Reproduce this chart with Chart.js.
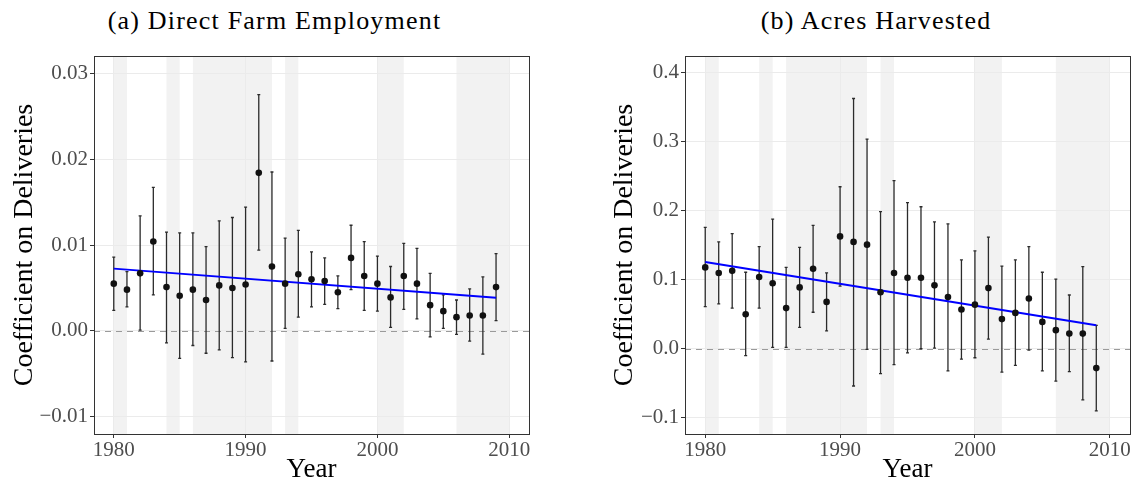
<!DOCTYPE html>
<html>
<head>
<meta charset="utf-8">
<script src="https://cdn.jsdelivr.net/npm/chart.js@4"></script>
<style>
  body { margin: 0; background: #fff; }
  #wrap { position: relative; width: 1135px; height: 484px; overflow: hidden; }
  .panel { position: absolute; top: 0; }
  .titulo { position: absolute; top: 8px; height: 30px; line-height: 25px; text-align: center;
            font-family: 'Liberation Serif', serif; font-size: 26px; letter-spacing: 1.2px; color: #000; }
</style>
</head>
<body>
<div id="wrap">
  <div class="titulo" style="left:0; width:549px;">(a) Direct Farm Employment</div>
  <div class="titulo" style="left:626px; width:500px;">(b) Acres Harvested</div>
  <canvas id="graficoEmprego" class="panel" style="left:0" width="567" height="484"></canvas>
  <canvas id="graficoAcres" class="panel" style="left:567px" width="568" height="484"></canvas>
</div>
<script>
// anos das estimativas
var anos = [1980, 1981, 1982, 1983, 1984, 1985, 1986, 1987, 1988, 1989,
            1990, 1991, 1992, 1993, 1994, 1995, 1996, 1997, 1998, 1999,
            2000, 2001, 2002, 2003, 2004, 2005, 2006, 2007, 2008, 2009];

// (a) emprego agricola direto
var empregoCoef = [0.0055, 0.0048, 0.0067, 0.0104, 0.0051, 0.0041, 0.0048, 0.0036, 0.0053, 0.0050,
                   0.0054, 0.0184, 0.0075, 0.0055, 0.0066, 0.0060, 0.0058, 0.0045, 0.0085, 0.0064,
                   0.0055, 0.0039, 0.0064, 0.0055, 0.0030, 0.0023, 0.0016, 0.0018, 0.0018, 0.0051];
var empregoInf = [0.0024, 0.0028, 0.0001, 0.0042, -0.0014, -0.0032, -0.0017, -0.0026, -0.0022, -0.0031,
                  -0.0036, 0.0094, -0.0035, 0.0003, 0.0016, 0.0028, 0.0031, 0.0026, 0.0048, 0.0024,
                  0.0023, 0.0004, 0.0025, 0.0014, -0.0007, 0.0003, -0.0004, -0.0012, -0.0027, 0.0012];
var empregoSup = [0.0086, 0.0069, 0.0134, 0.0167, 0.0115, 0.0114, 0.0114, 0.0098, 0.0128, 0.0132,
                  0.0144, 0.0275, 0.0185, 0.0108, 0.0117, 0.0092, 0.0085, 0.0064, 0.0123, 0.0104,
                  0.0087, 0.0075, 0.0102, 0.0096, 0.0067, 0.0042, 0.0036, 0.0049, 0.0063, 0.0090];
var empregoTendencia = [0.00725, 0.00387];

// (b) acres colhidos
var acresCoef = [0.118, 0.110, 0.113, 0.050, 0.104, 0.095, 0.059, 0.089, 0.116, 0.068,
                 0.163, 0.155, 0.151, 0.082, 0.110, 0.103, 0.103, 0.092, 0.075, 0.057,
                 0.064, 0.088, 0.043, 0.052, 0.073, 0.039, 0.027, 0.022, 0.022, -0.028];
var acresInf = [0.061, 0.065, 0.059, -0.010, 0.059, 0.002, 0.002, 0.031, 0.053, 0.026,
                0.091, -0.054, -0.001, -0.036, -0.023, -0.006, 0.000, 0.001, -0.032, -0.015,
                -0.013, 0.014, -0.034, -0.024, -0.002, -0.032, -0.047, -0.033, -0.074, -0.090];
var acresSup = [0.176, 0.155, 0.167, 0.111, 0.148, 0.188, 0.118, 0.147, 0.179, 0.110,
                0.235, 0.363, 0.304, 0.199, 0.244, 0.212, 0.206, 0.184, 0.181, 0.129,
                0.142, 0.162, 0.120, 0.129, 0.148, 0.111, 0.101, 0.078, 0.119, 0.034];
var acresTendencia = [0.126, 0.034];

// anos da linha de tendencia
var tendenciaAnos = [1980, 2009];

// faixas sombreadas
var faixaInicio = [1980, 1984, 1986, 1993, 2000, 2006];
var faixaFim    = [1981, 1985, 1992, 1994, 2002, 2010];

// eixos
var xTicks = [1980, 1990, 2000, 2010];
var xLabels = ["1980", "1990", "2000", "2010"];
var empregoTicks = [-0.01, 0, 0.01, 0.02, 0.03];
var empregoLabels = ["\u22120.01", "0.00", "0.01", "0.02", "0.03"];
var acresTicks = [-0.1, 0, 0.1, 0.2, 0.3, 0.4];
var acresLabels = ["\u22120.1", "0.0", "0.1", "0.2", "0.3", "0.4"];

var fonte = "'Liberation Serif', 'Times New Roman', serif";

// faixas, linha zero, barras de erro e moldura
var extras = {
    id: 'extras',
    beforeDraw: function(chart) {
        var ctx = chart.ctx, a = chart.chartArea, x = chart.scales.x;
        ctx.save();
        ctx.fillStyle = '#f2f2f2';
        for (var i = 0; i < faixaInicio.length; i++) {
            var x0 = x.getPixelForValue(faixaInicio[i]);
            var x1 = x.getPixelForValue(faixaFim[i]);
            ctx.fillRect(x0, a.top, x1 - x0, a.bottom - a.top);
        }
        ctx.restore();
    },
    beforeDatasetsDraw: function(chart, args, opts) {
        var ctx = chart.ctx, a = chart.chartArea, x = chart.scales.x, y = chart.scales.y;
        ctx.save();
        // linha tracejada em zero
        ctx.strokeStyle = '#9a9a9a';
        ctx.lineWidth = 1;
        ctx.setLineDash([6, 5]);
        var y0 = Math.round(y.getPixelForValue(0)) + 0.5;
        ctx.beginPath();
        ctx.moveTo(a.left, y0);
        ctx.lineTo(a.right, y0);
        ctx.stroke();
        ctx.setLineDash([]);
        // barras de erro
        ctx.strokeStyle = '#2b2b2b';
        ctx.lineWidth = 1.3;
        for (var i = 0; i < anos.length; i++) {
            var px = x.getPixelForValue(anos[i]);
            var pLo = y.getPixelForValue(opts.inf[i]);
            var pHi = y.getPixelForValue(opts.sup[i]);
            ctx.beginPath();
            ctx.moveTo(px, pLo);
            ctx.lineTo(px, pHi);
            ctx.moveTo(px - 1.5, pLo);
            ctx.lineTo(px + 1.5, pLo);
            ctx.moveTo(px - 1.5, pHi);
            ctx.lineTo(px + 1.5, pHi);
            ctx.stroke();
        }
        ctx.restore();
    },
    afterDraw: function(chart) {
        var ctx = chart.ctx, a = chart.chartArea;
        ctx.save();
        ctx.strokeStyle = '#333333';
        ctx.lineWidth = 1;
        ctx.strokeRect(Math.round(a.left) + 0.5, Math.round(a.top) + 0.5,
                       Math.round(a.right - a.left), Math.round(a.bottom - a.top));
        ctx.restore();
    }
};

function desenharPainel(idCanvas, coef, inf, sup, tendencia, yMin, yMax, yTicks, yLabels, larguraY, margem) {
    var ctx = document.getElementById(idCanvas).getContext('2d');
    var pontos = anos.map(function(a, i) { return { x: a, y: coef[i] }; });
    var linha = tendenciaAnos.map(function(a, i) { return { x: a, y: tendencia[i] }; });

    return new Chart(ctx, {
        type: 'scatter',
        data: {
            datasets: [{
                data: linha,
                type: 'line',
                showLine: true,
                borderColor: '#0000ff',
                borderWidth: 2,
                pointRadius: 0,
                fill: false,
                order: 1
            }, {
                data: pontos,
                backgroundColor: '#111111',
                borderColor: '#111111',
                pointRadius: 3.3,
                borderWidth: 0,
                order: 0
            }]
        },
        plugins: [extras],
        options: {
            responsive: false,
            animation: false,
            layout: { padding: { top: 56, right: margem.right, left: margem.left, bottom: 0 } },
            plugins: {
                legend: { display: false },
                tooltip: { enabled: false },
                extras: { inf: inf, sup: sup }
            },
            scales: {
                x: {
                    type: 'linear',
                    min: 1978.5,
                    max: 2011.5,
                    afterBuildTicks: function(s) { s.ticks = xTicks.map(function(v) { return { value: v }; }); },
                    afterFit: function(s) { s.height = 50; },
                    grid: { color: '#ebebeb', tickColor: '#333333', tickLength: 4, drawTicks: true },
                    border: { display: false },
                    ticks: {
                        color: '#4d4d4d',
                        font: { family: fonte, size: 21 },
                        padding: 0,
                        maxRotation: 0,
                        callback: function(v, i) { return xLabels[i]; }
                    },
                    title: {
                        display: true,
                        text: 'Year',
                        color: '#000',
                        font: { family: fonte, size: 27 },
                        padding: { top: 0, bottom: -2 }
                    }
                },
                y: {
                    min: yMin,
                    max: yMax,
                    afterBuildTicks: function(s) { s.ticks = yTicks.map(function(v) { return { value: v }; }); },
                    afterFit: function(s) { s.width = larguraY; },
                    grid: { color: '#ebebeb', tickColor: '#333333', tickLength: 4, drawTicks: true },
                    border: { display: false },
                    ticks: {
                        color: '#4d4d4d',
                        font: { family: fonte, size: 21 },
                        padding: 2,
                        callback: function(v, i) { return yLabels[i]; }
                    },
                    title: {
                        display: true,
                        text: 'Coefficient on Deliveries',
                        color: '#000',
                        font: { family: fonte, size: 28 },
                        padding: { top: 8, bottom: 0 }
                    }
                }
            }
        }
    });
}

desenharPainel('graficoEmprego', empregoCoef, empregoInf, empregoSup, empregoTendencia,
               -0.012, 0.032, empregoTicks, empregoLabels, 94, { left: 0, right: 38 });
desenharPainel('graficoAcres', acresCoef, acresInf, acresSup, acresTendencia,
               -0.1236, 0.4246, acresTicks, acresLabels, 85, { left: 33, right: 5 });
</script>
</body>
</html>
